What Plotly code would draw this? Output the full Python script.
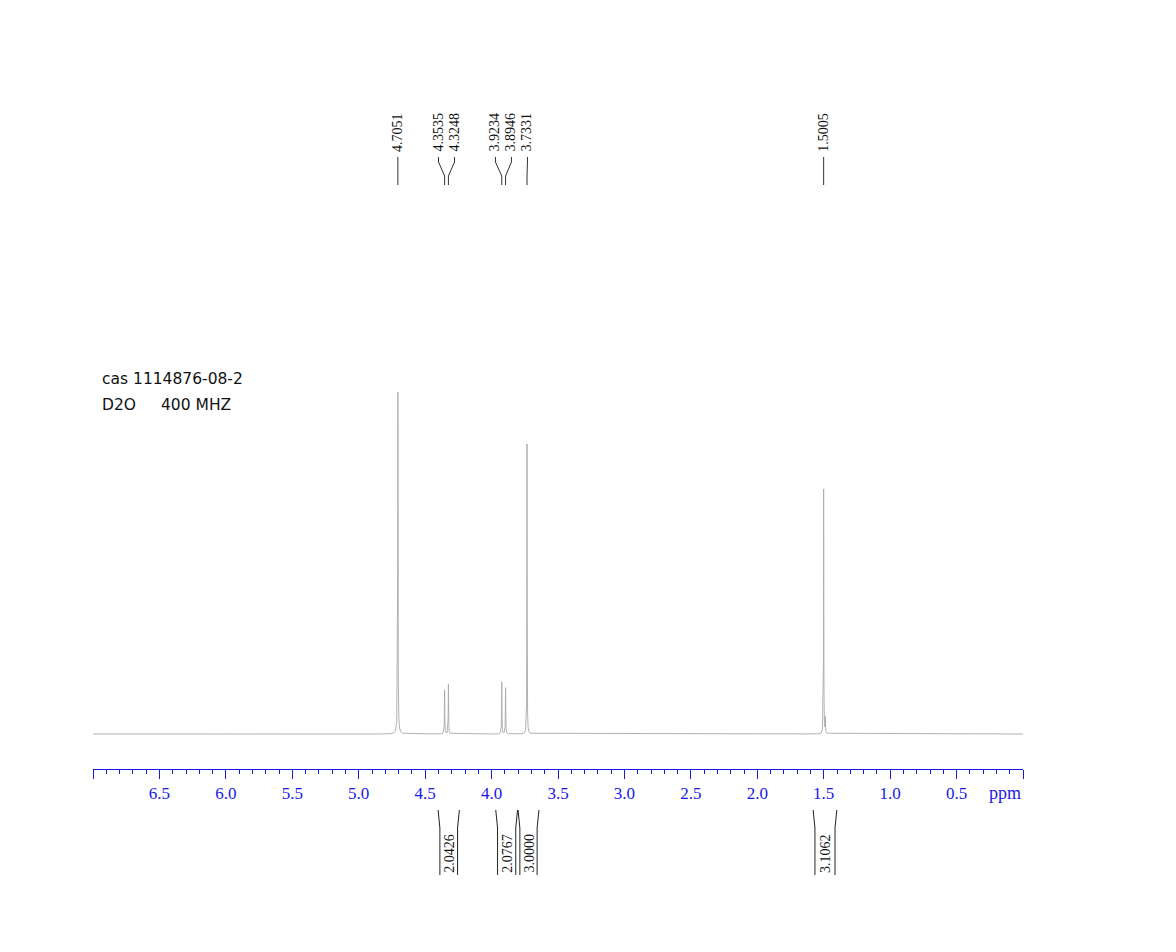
import numpy as np
import plotly.graph_objects as go

# --- spectrum data ---
peak_ppm = [4.7051, 4.3535, 4.3248, 3.9234, 3.8946, 3.7331, 1.5005]
peak_height = [90.0, 12.9, 14.6, 15.2, 13.5, 84.8, 71.6]
peak_fwhm = [0.0025, 0.003, 0.003, 0.003, 0.003, 0.0025, 0.0025]

# unlabelled features: broad HDO base and small satellite of 1.5005
extra_ppm = [4.7051, 1.488]
extra_height = [10.0, 4.5]
extra_fwhm = [0.008, 0.003]

# integrals
integ_left = [4.389, 3.955, 3.787, 1.566]
integ_right = [4.256, 3.818, 3.657, 1.415]
integ_value = ["2.0426", "2.0767", "3.0000", "3.1062"]

tick_vals = [7.0, 6.5, 6.0, 5.5, 5.0, 4.5, 4.0, 3.5, 3.0, 2.5, 2.0, 1.5, 1.0, 0.5, 0.0]
tick_text = ["", "6.5", "6.0", "5.5", "5.0", "4.5", "4.0", "3.5", "3.0", "2.5", "2.0", "1.5", "1.0", "0.5", ""]

# --- layout constants (page pixels; the html body adds an 8px offset) ---
W, H = 1176, 952
OFF = 8
PLOT_LEFT, PLOT_RIGHT, PLOT_TOP, PLOT_BOTTOM = 93, 1023, 60, 769
M_L = PLOT_LEFT - OFF
M_R = W - (PLOT_RIGHT - OFF)
M_T = PLOT_TOP - OFF
M_B = H - (PLOT_BOTTOM - OFF)
PLOT_H = PLOT_BOTTOM - PLOT_TOP
PLOT_W = PLOT_RIGHT - PLOT_LEFT
PX_PER_PPM = PLOT_W / 7.0
BASELINE = 734
PX_PER_UNIT = 3.42
BLUE = "rgb(24,24,232)"
SERIF = "Liberation Serif, Times New Roman, serif"


def py(pix):
    """page pixel row -> paper y"""
    return (PLOT_BOTTOM - pix) / PLOT_H


def px(pix):
    """page pixel column -> paper x"""
    return (pix - PLOT_LEFT) / PLOT_W


def place(group, gap):
    c = float(np.mean(group))
    n = len(group)
    return [c - (k - (n - 1) / 2) * gap for k in range(n)]


def spread_labels(ppms, gap):
    groups = []
    for p in sorted(ppms, reverse=True):
        groups.append([p])
        while len(groups) > 1:
            a, b = groups[-2], groups[-1]
            if place(a, gap)[-1] - place(b, gap)[0] < gap:
                groups[-2:] = [a + b]
            else:
                break
    out = []
    for g in groups:
        out += place(g, gap)
    return out


# build spectrum as sum of lorentzian lines
x = np.union1d(np.arange(0, 7.00001, 0.0005), np.array(peak_ppm + extra_ppm))
y = np.zeros_like(x)
for p, h, w in zip(peak_ppm + extra_ppm, peak_height + extra_height, peak_fwhm + extra_fwhm):
    y += h / (1 + ((x - p) / (w / 2)) ** 2)

fig = go.Figure()
fig.add_trace(go.Scatter(
    x=x, y=y, mode="lines",
    line=dict(color="#a9a9a9", width=0.9),
    hoverinfo="skip", showlegend=False,
))

shapes = []
annotations = []

# peak labels with connector lines
label_pos = spread_labels(peak_ppm, 16 / PX_PER_PPM)
for p, lx in zip(sorted(peak_ppm, reverse=True), label_pos):
    annotations.append(dict(
        x=lx, y=py(132), xref="x", yref="paper", text=f"{p:.4f}",
        textangle=-90, showarrow=False, xanchor="center", yanchor="middle",
        font=dict(family=SERIF, size=14, color="#111"),
    ))
    shapes.append(dict(
        type="path", xref="x", yref="paper",
        path=f"M {lx},{py(157)} L {lx},{py(162)} L {p},{py(176)} L {p},{py(185)}",
        line=dict(color="#333", width=1),
    ))

# integral brackets
flare = 1.8 / PX_PER_PPM
for l, r, v in zip(integ_left, integ_right, integ_value):
    shapes.append(dict(
        type="path", xref="x", yref="paper",
        path=f"M {l + flare},{py(810)} L {l},{py(828)} L {l},{py(875)}",
        line=dict(color="#222", width=1),
    ))
    shapes.append(dict(
        type="path", xref="x", yref="paper",
        path=f"M {r - flare},{py(810)} L {r},{py(828)} L {r},{py(875)}",
        line=dict(color="#222", width=1),
    ))
    annotations.append(dict(
        x=(l + r) / 2, y=py(853), xref="x", yref="paper", text=v,
        textangle=-90, showarrow=False, xanchor="center", yanchor="middle",
        font=dict(family=SERIF, size=14, color="#111"),
    ))

# sample info
info_font = dict(family="DejaVu Sans", size=15.5, color="#111")
annotations += [
    dict(x=px(100), y=py(379), xref="paper", yref="paper",
         text="cas 1114876-08-2", showarrow=False, xanchor="left", yanchor="middle", font=info_font),
    dict(x=px(100), y=py(405), xref="paper", yref="paper",
         text="D2O", showarrow=False, xanchor="left", yanchor="middle", font=info_font),
    dict(x=px(159), y=py(405), xref="paper", yref="paper",
         text="400 MHZ", showarrow=False, xanchor="left", yanchor="middle", font=info_font),
]

# unit label at right end of axis
annotations.append(dict(
    x=0.0, y=py(793), xref="x", yref="paper", text="ppm", showarrow=False,
    xanchor="right", yanchor="middle", font=dict(family=SERIF, size=18, color=BLUE),
))

fig.update_layout(
    width=W, height=H,
    margin=dict(l=M_L, r=M_R, t=M_T, b=M_B),
    paper_bgcolor="white", plot_bgcolor="white",
    shapes=shapes, annotations=annotations,
    showlegend=False,
    xaxis=dict(
        range=[7.0, 0.0], showgrid=False, zeroline=False,
        showline=True, linecolor=BLUE, linewidth=1,
        ticks="outside", ticklen=9, tickwidth=1, tickcolor=BLUE,
        tickmode="array", tickvals=tick_vals, ticktext=tick_text,
        tickfont=dict(family=SERIF, size=17, color=BLUE),
        minor=dict(tick0=0, dtick=0.1, ticks="outside", ticklen=4, tickcolor=BLUE, showgrid=False),
    ),
    yaxis=dict(
        range=[-(PLOT_BOTTOM - BASELINE) / PX_PER_UNIT, (BASELINE - PLOT_TOP) / PX_PER_UNIT],
        visible=False, showgrid=False, zeroline=False,
    ),
)

fig.write_html("out.html")
